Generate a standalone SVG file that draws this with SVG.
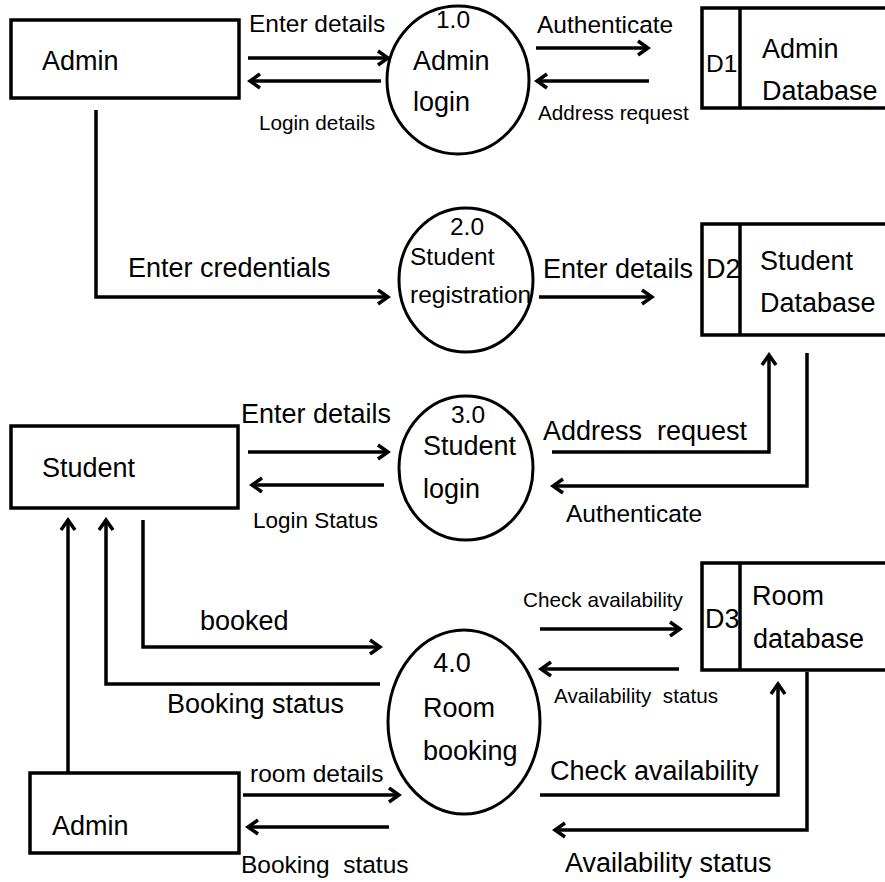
<svg xmlns="http://www.w3.org/2000/svg" width="885" height="882" viewBox="0 0 885 882">
<style>
text{font-family:"Liberation Sans",Arial,sans-serif;fill:#000}
.b{font-size:27px}.m{font-size:24.5px}.s{font-size:20.7px}
.box{fill:#fff;stroke:#000;stroke-width:3.5}
.proc{fill:#fff;stroke:#000;stroke-width:3}
.st{fill:none;stroke:#000;stroke-width:3.5}
.c{fill:none;stroke:#000;stroke-width:3.5;marker-end:url(#ah)}
</style>
<defs>
<marker id="ah" viewBox="-2 -10 16 20" markerWidth="16" markerHeight="20" refX="11" refY="0" orient="auto" markerUnits="userSpaceOnUse">
<path d="M1,-7 L11,0 L1,7" fill="none" stroke="#000" stroke-width="3.5"/>
</marker>
</defs>
<rect width="885" height="882" fill="#fff"/>

<g id="connectors">
<line class="c" x1="248" y1="58" x2="388" y2="58"/>
<line class="c" x1="381" y1="81" x2="250" y2="81"/>
<line class="c" x1="536" y1="48" x2="648" y2="48"/>
<line class="c" x1="649" y1="81" x2="537" y2="81"/>
<polyline class="c" points="96,110 96,297 388,297"/>
<line class="c" x1="539" y1="297" x2="652" y2="297"/>
<line class="c" x1="248" y1="452" x2="388" y2="452"/>
<line class="c" x1="384" y1="485" x2="252" y2="485"/>
<polyline class="c" points="552,452 769,452 769,355"/>
<polyline class="c" points="807,353 807,486 553,486"/>
<polyline class="c" points="143,520 143,647 380,647"/>
<polyline class="c" points="380,684 106,684 106,520"/>
<line class="c" x1="68" y1="773" x2="68" y2="520"/>
<line class="c" x1="243" y1="795" x2="399" y2="795"/>
<line class="c" x1="389" y1="827" x2="248" y2="827"/>
<line class="c" x1="540" y1="629" x2="680" y2="629"/>
<line class="c" x1="679" y1="669" x2="541" y2="669"/>
<polyline class="c" points="540,795 778,795 778,684"/>
<polyline class="c" points="807,672 807,830 555,830"/>
<text class="m" x="249" y="32">Enter details</text>
<text class="s" x="259" y="130">Login details</text>
<text class="m" x="537" y="33">Authenticate</text>
<text class="s" x="538" y="120">Address request</text>
<text class="b" x="128" y="277">Enter credentials</text>
<text class="b" x="543" y="278">Enter details</text>
<text class="b" x="241" y="423">Enter details</text>
<text class="s" x="253" y="528" style="font-size:22.5px">Login Status</text>
<text class="b" x="543" y="440" xml:space="preserve">Address  request</text>
<text class="m" x="566" y="522">Authenticate</text>
<text class="b" x="200" y="630">booked</text>
<text class="b" x="167" y="713">Booking status</text>
<text class="m" x="250" y="782">room details</text>
<text class="m" x="241" y="873" xml:space="preserve">Booking  status</text>
<text class="s" x="523" y="607">Check availability</text>
<text class="s" x="554" y="703" xml:space="preserve">Availability  status</text>
<text class="b" x="550" y="780">Check availability</text>
<text class="b" x="565" y="872">Availability status</text>
</g>

<g id="admin1">
<rect class="box" x="11" y="20" width="228" height="78"/>
<text class="b" x="42" y="70">Admin</text>
</g>

<g id="p1">
<ellipse class="proc" cx="458" cy="80" rx="71" ry="74"/>
<text class="m" x="453" y="28" text-anchor="middle">1.0</text>
<text class="b" x="413" y="70">Admin</text>
<text class="b" x="413" y="111">login</text>
</g>

<g id="d1">
<path class="st" d="M885,8 H702 V108 H885 M740,8 V108"/>
<text class="m" x="706" y="72">D1</text>
<text class="b" x="762" y="58">Admin</text>
<text class="b" x="762" y="100">Database</text>
</g>

<g id="p2">
<ellipse class="proc" cx="466" cy="280" rx="67" ry="72"/>
<text class="m" x="467" y="235" text-anchor="middle">2.0</text>
<text class="m" x="410" y="265">Student</text>
<text class="m" x="410" y="303">registration</text>
</g>

<g id="d2">
<path class="st" d="M885,224 H702 V335 H885 M740,224 V335"/>
<text class="b" x="706" y="278">D2</text>
<text class="b" x="760" y="270">Student</text>
<text class="b" x="760" y="312">Database</text>
</g>

<g id="student">
<rect class="box" x="11" y="426" width="227" height="82"/>
<text class="b" x="42" y="477">Student</text>
</g>

<g id="p3">
<ellipse class="proc" cx="466" cy="468" rx="67" ry="72"/>
<text class="m" x="468" y="423" text-anchor="middle">3.0</text>
<text class="b" x="423" y="455">Student</text>
<text class="b" x="423" y="498">login</text>
</g>

<g id="p4">
<ellipse class="proc" cx="464" cy="722" rx="76" ry="92"/>
<text class="b" x="452" y="672" text-anchor="middle">4.0</text>
<text class="b" x="423" y="717">Room</text>
<text class="b" x="423" y="760">booking</text>
</g>

<g id="d3">
<path class="st" d="M885,563 H702 V670 H885 M740,563 V670"/>
<text class="b" x="705" y="628">D3</text>
<text class="b" x="752" y="605">Room</text>
<text class="b" x="753" y="648">database</text>
</g>

<g id="admin2">
<rect class="box" x="30" y="773" width="209" height="80"/>
<text class="b" x="52" y="835">Admin</text>
</g>
</svg>
